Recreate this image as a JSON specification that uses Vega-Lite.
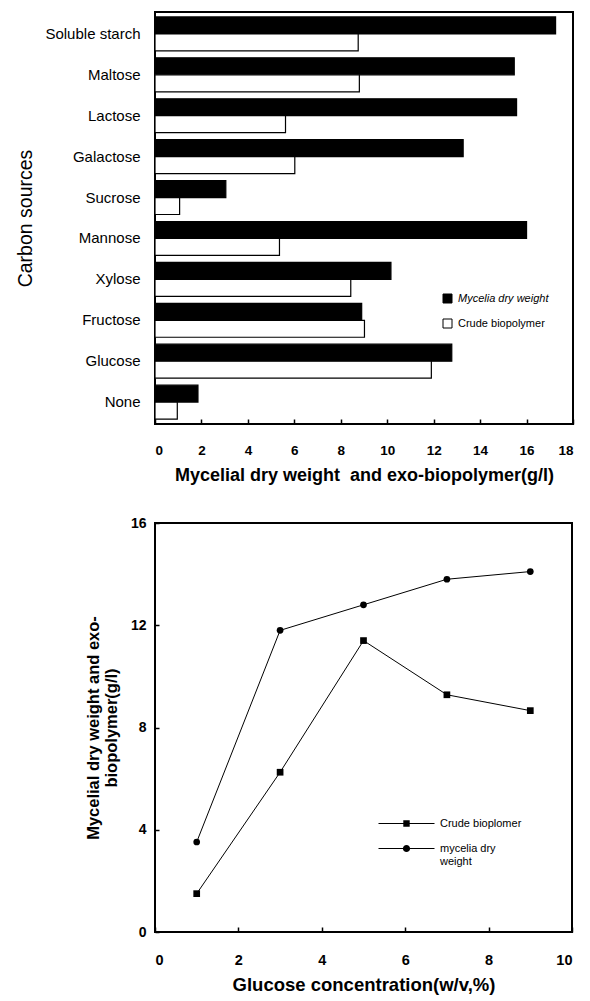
{
  "$schema": "https://vega.github.io/schema/vega-lite/v6.json",
  "padding": {"left": 14, "top": 11, "right": 5, "bottom": 0},
  "spacing": 29,
  "config": {
    "font": "Liberation Sans",
    "view": {"stroke": "black", "strokeWidth": 2},
    "axis": {"labelColor": "black", "titleColor": "black", "tickColor": "black", "domain": false, "grid": false},
    "legend": {"labelColor": "black"}
  },
  "datasets": {
    "carbon": [
      {"source": "Soluble starch", "series": "Mycelia dry weight", "value": 17.25},
      {"source": "Soluble starch", "series": "Crude biopolymer", "value": 8.75},
      {"source": "Maltose", "series": "Mycelia dry weight", "value": 15.47},
      {"source": "Maltose", "series": "Crude biopolymer", "value": 8.8},
      {"source": "Lactose", "series": "Mycelia dry weight", "value": 15.57},
      {"source": "Lactose", "series": "Crude biopolymer", "value": 5.62},
      {"source": "Galactose", "series": "Mycelia dry weight", "value": 13.27},
      {"source": "Galactose", "series": "Crude biopolymer", "value": 6.02},
      {"source": "Sucrose", "series": "Mycelia dry weight", "value": 3.05},
      {"source": "Sucrose", "series": "Crude biopolymer", "value": 1.06},
      {"source": "Mannose", "series": "Mycelia dry weight", "value": 16.0},
      {"source": "Mannose", "series": "Crude biopolymer", "value": 5.36},
      {"source": "Xylose", "series": "Mycelia dry weight", "value": 10.16},
      {"source": "Xylose", "series": "Crude biopolymer", "value": 8.43},
      {"source": "Fructose", "series": "Mycelia dry weight", "value": 8.9},
      {"source": "Fructose", "series": "Crude biopolymer", "value": 9.02},
      {"source": "Glucose", "series": "Mycelia dry weight", "value": 12.78},
      {"source": "Glucose", "series": "Crude biopolymer", "value": 11.9},
      {"source": "None", "series": "Mycelia dry weight", "value": 1.85},
      {"source": "None", "series": "Crude biopolymer", "value": 0.96}
    ],
    "glucose": [
      {"conc": 1, "series": "Crude bioplomer", "value": 1.5},
      {"conc": 3, "series": "Crude bioplomer", "value": 6.25},
      {"conc": 5, "series": "Crude bioplomer", "value": 11.4},
      {"conc": 7, "series": "Crude bioplomer", "value": 9.28},
      {"conc": 9, "series": "Crude bioplomer", "value": 8.66},
      {"conc": 1, "series": "mycelia dry weight", "value": 3.52},
      {"conc": 3, "series": "mycelia dry weight", "value": 11.8},
      {"conc": 5, "series": "mycelia dry weight", "value": 12.8},
      {"conc": 7, "series": "mycelia dry weight", "value": 13.8},
      {"conc": 9, "series": "mycelia dry weight", "value": 14.1}
    ]
  },
  "vconcat": [
    {
      "width": 418,
      "height": 412,
      "data": {"name": "carbon"},
      "mark": {"type": "bar", "stroke": "black", "strokeWidth": 1.2},
      "encoding": {
        "y": {
          "field": "source", "type": "nominal",
          "sort": ["Soluble starch", "Maltose", "Lactose", "Galactose", "Sucrose", "Mannose", "Xylose", "Fructose", "Glucose", "None"],
          "scale": {"paddingInner": 0.17, "paddingOuter": 0.12},
          "axis": {"title": "Carbon sources", "ticks": false, "labelFontSize": 15, "labelPadding": 15, "titleFontSize": 19.5, "titleFontWeight": "normal", "titlePadding": 9}
        },
        "yOffset": {"field": "series", "type": "nominal", "sort": ["Mycelia dry weight", "Crude biopolymer"]},
        "x": {
          "field": "value", "type": "quantitative",
          "scale": {"domain": [0, 18], "nice": false},
          "axis": {"values": [0, 2, 4, 6, 8, 10, 12, 14, 16, 18], "tickSize": -5, "tickWidth": 1.5, "labelFontSize": 13.5, "labelFontWeight": "bold", "labelPadding": 24, "title": "Mycelial dry weight\u00a0 and exo-biopolymer(g/l)", "titleFontSize": 18, "titleFontWeight": "bold", "titlePadding": 10}
        },
        "fill": {
          "field": "series", "type": "nominal",
          "scale": {"domain": ["Mycelia dry weight", "Crude biopolymer"], "range": ["black", "white"]},
          "legend": {
            "title": null, "orient": "none", "legendX": 287, "legendY": 281,
            "symbolType": "square", "symbolSize": 81, "symbolStrokeColor": "black", "symbolStrokeWidth": 1,
            "labelFontSize": 11, "labelOffset": 5, "rowPadding": 12,
            "encode": {"labels": {"update": {"fontStyle": {"signal": "datum.value == 'Mycelia dry weight' ? 'italic' : 'normal'"}}}}
          }
        }
      }
    },
    {
      "width": 417,
      "height": 409,
      "data": {"name": "glucose"},
      "encoding": {
        "x": {
          "field": "conc", "type": "quantitative",
          "scale": {"domain": [0, 10], "nice": false},
          "axis": {"values": [0, 2, 4, 6, 8, 10], "tickSize": -5, "tickWidth": 1.5, "labelFontSize": 14.5, "labelFontWeight": "bold", "labelPadding": 26, "title": "Glucose concentration(w/v,%)", "titleFontSize": 18.5, "titleFontWeight": "bold", "titlePadding": 9}
        },
        "y": {
          "field": "value", "type": "quantitative",
          "scale": {"domain": [0, 16], "nice": false},
          "axis": {"values": [0, 4, 8, 12, 16], "tickSize": -4, "tickWidth": 1.5, "labelFontSize": 14, "labelFontWeight": "bold", "labelPadding": 13, "title": ["Mycelial dry weight and exo-", "biopolymer(g/l)"], "titleFontSize": 16.5, "titleFontWeight": "bold", "titlePadding": 11, "titleLineHeight": 18}
        }
      },
      "layer": [
        {"mark": {"type": "line", "color": "black", "strokeWidth": 1}, "encoding": {"detail": {"field": "series"}}},
        {
          "transform": [{"filter": "datum.series == 'Crude bioplomer'"}],
          "mark": {"type": "point", "shape": "square", "filled": true, "color": "black", "opacity": 1, "size": 45}
        },
        {
          "transform": [{"filter": "datum.series == 'mycelia dry weight'"}],
          "mark": {"type": "point", "shape": "circle", "filled": true, "color": "black", "opacity": 1, "size": 45}
        },
        {
          "mark": {"type": "point", "filled": true, "color": "black", "opacity": 0, "size": 64},
          "encoding": {
            "shape": {
              "field": "series", "type": "nominal",
              "scale": {"domain": ["Crude bioplomer", "mycelia dry weight"], "range": ["M-7,-0.12H7V0.12H-7ZM-0.8,-0.8H0.8V0.8H-0.8Z", "M-7,-0.12H7V0.12H-7ZM0.9,0A0.9,0.9 0 1,1 -0.9,0A0.9,0.9 0 1,1 0.9,0Z"]},
              "legend": {
                "title": null, "orient": "none", "legendX": 246, "legendY": 806,
                "symbolSize": 64, "symbolStrokeColor": "black", "symbolFillColor": "black", "symbolStrokeWidth": 0, "symbolOpacity": 1,
                "labelFontSize": 11, "labelOffset": 28, "rowPadding": 13,
                "labelExpr": "datum.label == 'mycelia dry weight' ? ['mycelia dry', 'weight'] : datum.label",
                "encode": {
                  "symbols": {"update": {"fill": {"value": "black"}, "opacity": {"value": 1}, "fillOpacity": {"value": 1}}},
                  "labels": {"update": {"fontStyle": {"signal": "datum.value == 'Crude bioplomer' ? 'italic' : 'normal'"}}}
                }
              }
            }
          }
        }
      ]
    }
  ]
}
